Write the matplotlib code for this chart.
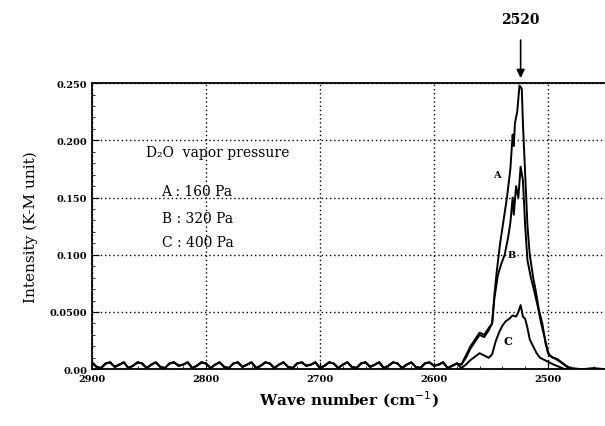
import numpy as np
import matplotlib.pyplot as plt
from matplotlib.ticker import MultipleLocator

plt.rcParams['font.family'] = ['DejaVu Serif']

# baseline ripple 2900 -> 2580 cm-1 (every 4 cm-1), shared by the 3 spectra
base = [0.006, 0.002, 0.001, 0.005, 0.006, 0.002, 0.004, 0.006, 0.001, 0.003,
        0.006, 0.005, 0.001, 0.004, 0.006, 0.002, 0.001, 0.005, 0.006, 0.003,
        0.004, 0.006, 0.001, 0.003, 0.006, 0.005, 0.001, 0.004, 0.006, 0.002,
        0.001, 0.005, 0.006, 0.002, 0.004, 0.006, 0.001, 0.003, 0.006, 0.005,
        0.001, 0.004, 0.006, 0.002, 0.001, 0.005, 0.006, 0.003, 0.004, 0.006,
        0.001, 0.003, 0.006, 0.005, 0.001, 0.004, 0.006, 0.002, 0.001, 0.005,
        0.006, 0.002, 0.004, 0.006, 0.001, 0.003, 0.006, 0.005, 0.001, 0.004,
        0.006, 0.002, 0.001, 0.005, 0.006, 0.003, 0.004, 0.006, 0.001, 0.003,
        0.005]
wn_base = 2900 - 4 * np.arange(len(base))

# peak region
wn_a = [2576, 2572, 2568, 2564, 2560, 2556, 2552, 2549, 2547, 2545, 2542, 2539,
        2536, 2533, 2531, 2530, 2529, 2527, 2525, 2523, 2522, 2520, 2518, 2516,
        2513, 2511, 2508, 2505, 2502, 2499, 2495, 2490, 2486, 2482, 2478, 2470,
        2460, 2450]
val_a = [0.004, 0.010, 0.018, 0.024, 0.030, 0.028, 0.034, 0.040, 0.065, 0.085,
         0.110, 0.130, 0.150, 0.175, 0.205, 0.195, 0.215, 0.225, 0.248, 0.245,
         0.215, 0.170, 0.125, 0.100, 0.080, 0.070, 0.052, 0.040, 0.022, 0.012,
         0.010, 0.007, 0.004, 0.001, 0.000, 0.000, 0.001, 0.000]

wn_b = [2576, 2572, 2568, 2564, 2560, 2556, 2552, 2549, 2547, 2544, 2541, 2538,
        2535, 2533, 2531, 2530, 2528, 2526, 2524, 2522, 2520, 2518, 2515, 2512,
        2509, 2506, 2503, 2500, 2496, 2492, 2488, 2484, 2480, 2470, 2460, 2450]
val_b = [0.004, 0.012, 0.020, 0.026, 0.032, 0.030, 0.036, 0.040, 0.062, 0.082,
         0.092, 0.100, 0.115, 0.128, 0.150, 0.135, 0.160, 0.150, 0.177, 0.165,
         0.125, 0.095, 0.080, 0.068, 0.055, 0.040, 0.028, 0.014, 0.010, 0.009,
         0.006, 0.003, 0.001, 0.000, 0.000, 0.000]

wn_c = [2576, 2572, 2568, 2564, 2560, 2556, 2552, 2549, 2546, 2543, 2540, 2537,
        2534, 2531, 2528, 2526, 2524, 2522, 2520, 2518, 2516, 2513, 2510, 2507,
        2503, 2499, 2495, 2490, 2485, 2480, 2470, 2460, 2450]
val_c = [0.001, 0.004, 0.008, 0.011, 0.014, 0.012, 0.010, 0.013, 0.024, 0.032,
         0.038, 0.042, 0.044, 0.047, 0.046, 0.050, 0.056, 0.046, 0.044, 0.036,
         0.026, 0.020, 0.014, 0.010, 0.008, 0.006, 0.004, 0.002, 0.000, 0.000,
         0.000, 0.000, 0.000]

yticks = [0.0, 0.05, 0.10, 0.15, 0.20, 0.25]
ylabels = ['0.00', '0.0500', '0.100', '0.150', '0.200', '0.250']
xticks = [2900, 2800, 2700, 2600, 2500]

fig = plt.figure(figsize=(6.05, 4.27), dpi=100)
ax = fig.add_axes([0.152, 0.133, 0.848, 0.67])

for wn, val in [(wn_a, val_a), (wn_b, val_b), (wn_c, val_c)]:
    x = np.concatenate([wn_base, wn])
    y = np.concatenate([base, val])
    ax.plot(x, y, color='black', lw=1.4)

ax.set_xlim(2900, 2450)
ax.set_ylim(0, 0.25)
ax.set_xticks(xticks)
ax.set_xticklabels([str(t) for t in xticks], fontsize=7, fontweight='bold')
ax.set_yticks(yticks)
ax.set_yticklabels(ylabels, fontsize=7, fontweight='bold')
ax.yaxis.set_minor_locator(MultipleLocator(0.01))
ax.xaxis.set_minor_locator(MultipleLocator(20))
ax.tick_params(which='both', direction='in', right=False, top=False)
ax.tick_params(which='major', length=5)
ax.tick_params(which='minor', length=2.5)
ax.grid(True, which='major', linestyle=(0, (1, 2)), color='black', lw=1.0)
ax.spines['right'].set_visible(False)
for s in ['left', 'bottom', 'top']:
    ax.spines[s].set_linewidth(1.3)

ax.set_xlabel('Wave number (cm$^{-1}$)', fontsize=11, fontweight='bold')
ax.set_ylabel('Intensity (K-M unit)', fontsize=11, labelpad=8)

ax.text(2853, 0.186, 'D₂O  vapor pressure', fontsize=10)
ax.text(2839, 0.152, 'A : 160 Pa', fontsize=10)
ax.text(2839, 0.129, 'B : 320 Pa', fontsize=10)
ax.text(2839, 0.108, 'C : 400 Pa', fontsize=10)

ax.text(2545, 0.168, 'A', fontsize=7, fontweight='bold', ha='center')
ax.text(2532, 0.098, 'B', fontsize=7, fontweight='bold', ha='center')
ax.text(2535, 0.022, 'C', fontsize=8, fontweight='bold', ha='center')

ax.annotate('', xy=(2524, 0.252), xytext=(2524, 0.29), annotation_clip=False,
            arrowprops=dict(arrowstyle='-|>', color='black', lw=1.2, mutation_scale=12))
ax.text(2524, 0.30, '2520', fontsize=10, fontweight='bold', ha='center', va='bottom')

fig.savefig('out.png', dpi=100)
